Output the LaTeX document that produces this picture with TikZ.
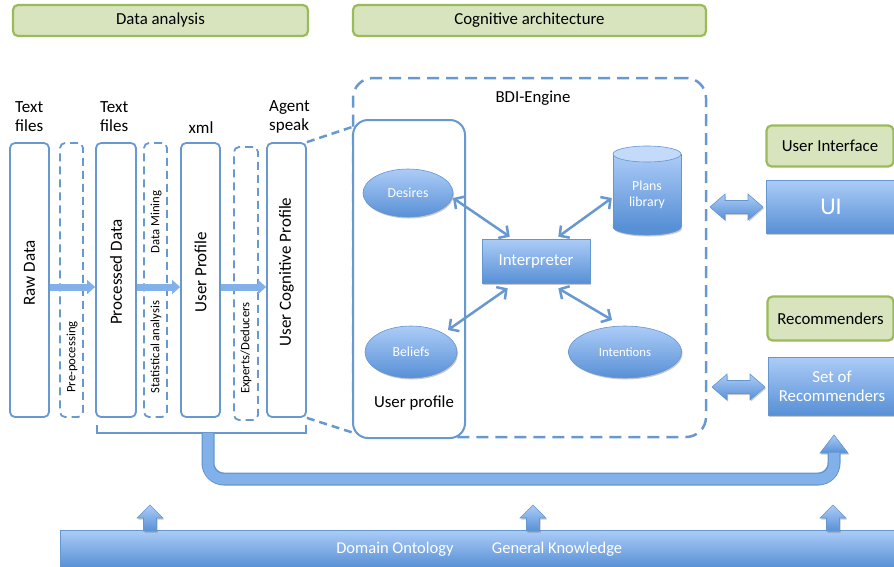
\documentclass[tikz,border=0pt]{standalone}
\usepackage{fontspec}
\setmainfont{Carlito}
\usetikzlibrary{arrows.meta,shadows,calc,shapes.geometric}
\definecolor{gfill}{RGB}{215,228,189}
\definecolor{gline}{RGB}{155,187,89}
\definecolor{bline}{RGB}{104,152,208}
\definecolor{btop}{RGB}{172,204,247}
\definecolor{bbot}{RGB}{88,144,214}
\definecolor{bedge}{RGB}{100,150,208}
\definecolor{bmid}{RGB}{130,176,232}
\definecolor{blite}{RGB}{195,218,250}
\newcommand{\hdarrow}[3]{%
  \path[bshade] (#1,#3) -- ++(15,-13) -- ++(0,6.5) -- ++({#2-#1-30},0) -- ++(0,-6.5)
    -- (#2,#3) -- ++(-15,13) -- ++(0,-6.5) -- ++({#1-#2+30},0) -- ++(0,6.5) -- cycle;}
\newcommand{\uparr}[3]{%
  \path[bshade] (#1,#2) -- ++(13,13) -- ++(-6.5,0) -- (#1+6.5,#3) -- (#1-6.5,#3)
    -- (#1-6.5,#2+13) -- (#1-13,#2+13) -- cycle;}
\begin{document}
\begin{tikzpicture}[x=1pt,y=-1pt,
  hdr/.style={draw=gline, line width=2.2pt, fill=gfill, rounded corners=5pt, inner sep=0pt,
    font=\fontsize{16.8}{19}\selectfont},
  col/.style={draw=bline, line width=1.8pt, rounded corners=5pt, inner sep=0pt},
  dcol/.style={draw=bline, line width=1.8pt, rounded corners=5pt, dash pattern=on 8pt off 5pt, inner sep=0pt},
  bshade/.style={top color=btop, bottom color=bbot, draw=bedge, line width=0.6pt,
    drop shadow={shadow xshift=1pt, shadow yshift=-1.5pt, opacity=.3, fill=black!70}},
  big/.style={font=\fontsize{17}{19}\selectfont},
  small/.style={font=\fontsize{12.7}{15}\selectfont},
  wt/.style={text=white},
  flow/.style={line width=7pt, color=bmid, -{Triangle[length=8pt,width=14pt]}},
  dbl/.style={line width=2.5pt, color=bline, {Straight Barb[length=7pt,width=15pt]}-{Straight Barb[length=7pt,width=15pt]}},
  conn/.style={line width=2.5pt, color=bline, dash pattern=on 8pt off 5pt},
]
\useasboundingbox (0,0) rectangle (894,566);
% headers
\node[hdr, minimum width=295pt, minimum height=31pt] (hda) at (160.5,20.5) {Data analysis};
\node[hdr, minimum width=353pt, minimum height=31pt] (hca) at (529.5,20.5) {Cognitive architecture};
\node[hdr, minimum width=127pt, minimum height=41pt] (hui) at (830,146) {User Interface};
\node[hdr, minimum width=126pt, minimum height=44pt] (hrec) at (830.5,318.5) {Recommenders};
% top labels
\node[big, anchor=west, align=left, inner sep=0pt] (l1) at (15,116.5) {Text\\files};
\node[big, anchor=west, align=left, inner sep=0pt] (l2) at (100,116.5) {Text\\files};
\node[big, inner sep=0pt] (l3) at (201,128) {xml};
\node[big, anchor=west, align=left, inner sep=0pt] (l4) at (269,116.5) {Agent\\speak};
% columns
\node[col, minimum width=39pt, minimum height=274pt] (raw) at (29.5,280) {};
\node[dcol, minimum width=23pt, minimum height=274pt] (pre) at (71.5,280) {};
\node[col, minimum width=40pt, minimum height=274pt] (proc) at (116,280) {};
\node[dcol, minimum width=23pt, minimum height=274pt] (dm) at (155.5,280) {};
\node[col, minimum width=39pt, minimum height=274pt] (up) at (200.5,280) {};
\node[dcol, minimum width=24pt, minimum height=273pt] (ex) at (246,283.5) {};
\node[col, minimum width=39pt, minimum height=274pt] (ucp) at (286.5,280) {};
\node[big, rotate=90] (traw) at (29.5,273) {Raw Data};
\node[big, rotate=90] (tproc) at (116,272) {Processed Data};
\node[big, rotate=90] (tup) at (200.5,272) {User Profile};
\node[big, rotate=90] (tucp) at (286.5,272) {User Cognitive Profile};
\node[small, rotate=90] (tpre) at (72,357) {Pre-pocessing};
\node[small, rotate=90] (tdm) at (156,222) {Data Mining};
\node[small, rotate=90] (tsa) at (156,347) {Statistical analysis};
\node[small, rotate=90] (tex) at (246,348) {Experts/Deducers};
\draw[flow] ([yshift=-7pt]raw.east) -- ([yshift=-7pt]proc.west);
\draw[flow] ([yshift=-7pt]proc.east) -- ([yshift=-7pt]up.west);
\draw[flow] ([yshift=-7pt]up.east) -- ([yshift=-7pt]ucp.west);
% bracket
\draw[line width=1.8pt, color=bline] (97,425) -- (97,433) -- (306,433) -- (306,425);
% big arrow
\path[bshade] (820,453) -- (834,435) -- (848,453) -- cycle;
\draw[line width=13pt, color=bedge, rounded corners=16pt] (208,433) -- (208,479) -- (834,479) -- (834,452.5);
\draw[line width=10.5pt, color=bmid, rounded corners=15pt] (208,433) -- (208,479) -- (834,479) -- (834,452.5);
% BDI engine
\node[draw=bline, line width=2.5pt, dash pattern=on 12pt off 7pt, rounded corners=20pt,
  minimum width=353pt, minimum height=359pt] (bdi) at (529.5,257.5) {};
\node[font=\fontsize{16.8}{19}\selectfont] (tbdi) at (533,98) {BDI-Engine};
\node[draw=bline, line width=2pt, rounded corners=15pt, fill=white,
  minimum width=112pt, minimum height=318pt] (upbox) at (409,279) {};
\node[font=\fontsize{16.8}{19}\selectfont] (tupb) at (414,403) {User profile};
\draw[conn] (ucp.north east) -- ($(upbox.north west)+(0,8)$);
\draw[conn] (ucp.south east) -- ($(upbox.south west)+(2,-6)$);
\node[bshade, ellipse, minimum width=90pt, minimum height=48pt, inner sep=0pt, wt,
  font=\fontsize{13.8}{16}\selectfont] (desires) at (408,193) {Desires};
\node[bshade, ellipse, minimum width=92pt, minimum height=52pt, inner sep=0pt, wt,
  font=\fontsize{13.8}{16}\selectfont] (beliefs) at (411,352) {Beliefs};
\node[bshade, ellipse, minimum width=113pt, minimum height=52pt, inner sep=0pt, wt,
  font=\fontsize{12.7}{15}\selectfont] (intent) at (625,352) {Intentions};
\node[bshade, rectangle, minimum width=108pt, minimum height=44pt, inner sep=0pt, wt,
  font=\fontsize{16.8}{19}\selectfont] (interp) at (536,261) {Interpreter};
% plans library cylinder
\fill[bbot, drop shadow={shadow xshift=1pt, shadow yshift=-1.5pt, opacity=.3, fill=black!70}] (647,227) ellipse [x radius=34, y radius=8];
\draw[bedge, line width=.6pt] (647,227) ellipse [x radius=34, y radius=8];
\fill[top color=btop, bottom color=bbot] (613,154) rectangle (681,227);
\draw[bedge, line width=.6pt] (613,154) -- (613,227) (681,154) -- (681,227);
\draw[bedge, line width=.6pt, fill=blite] (647,154) ellipse [x radius=34, y radius=8];
\node[wt, align=center, font=\fontsize{13.8}{16}\selectfont, minimum width=68pt, minimum height=89pt, inner sep=0pt] (plans) at (647,195) {Plans\\library};
% BDI arrows
\draw[dbl] ($(interp.north west)+(28,-2)$) -- ($(desires.center)+(45,5)$);
\draw[dbl] ($(interp.north east)+(-32,-2)$) -- ($(plans.west)+(-1,3)$);
\draw[dbl] ($(interp.south west)+(26,5)$) -- ($(beliefs.center)+(37,-22)$);
\draw[dbl] ($(interp.south east)+(-32,5)$) -- ($(intent.center)+(-13,-32)$);
% UI side
\node[bshade, minimum width=130pt, minimum height=53pt, inner sep=0pt, wt,
  font=\fontsize{24}{28}\selectfont] (ui) at (831,206.5) {UI};
\node[bshade, minimum width=128pt, minimum height=58pt, inner sep=0pt, wt, align=center,
  font=\fontsize{16.8}{19}\selectfont] (rec) at (832,386) {Set of\\Recommenders};
\hdarrow{710}{763}{207}
\hdarrow{712}{765}{387}
% bottom bar
\node[bshade, minimum width=836pt, minimum height=37pt, inner sep=0pt] (onto) at (478,548.5) {};
\node[wt, font=\fontsize{16.5}{19}\selectfont] (tdo) at (395,549) {Domain Ontology};
\node[wt, font=\fontsize{16.5}{19}\selectfont] (tgk) at (557,549) {General Knowledge};
\uparr{150}{505}{531}
\uparr{533}{505}{531}
\uparr{833}{505}{531}
\end{tikzpicture}
\end{document}
